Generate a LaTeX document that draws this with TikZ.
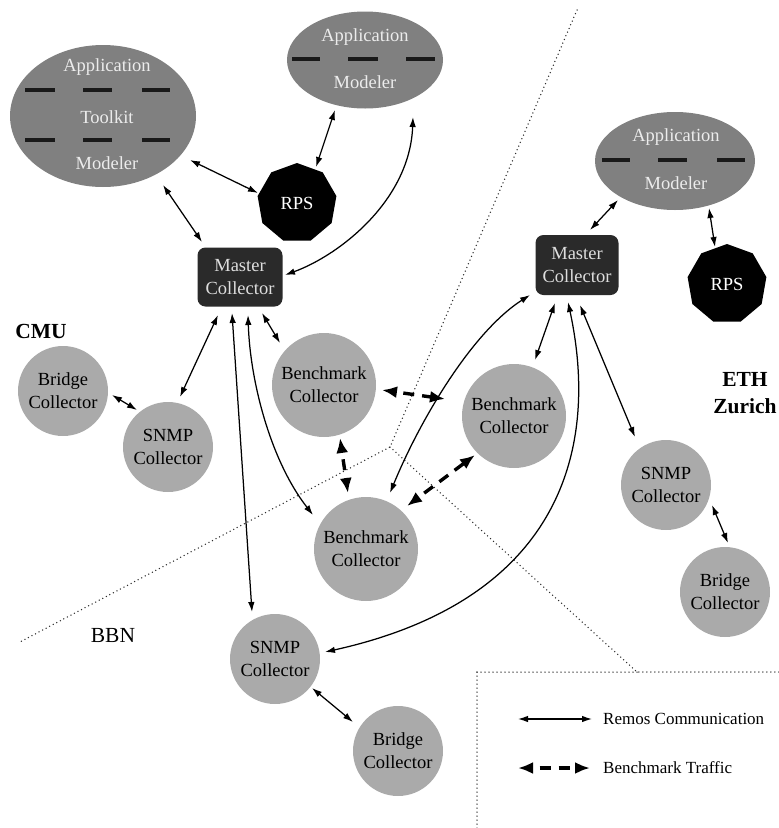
\documentclass[tikz,border=0pt]{standalone}
\usepackage{fontspec}
\setmainfont{Liberation Serif}
\usetikzlibrary{arrows.meta,shapes.geometric,calc}
\definecolor{ellfill}{RGB}{128,128,128}
\definecolor{elltext}{RGB}{236,236,236}
\definecolor{circfill}{RGB}{170,170,170}
\definecolor{mastfill}{RGB}{42,42,42}
\definecolor{masttext}{RGB}{222,222,222}
\definecolor{dotcol}{RGB}{45,45,45}
\newcommand\dgfont{\fontsize{18.5}{23}\selectfont}
\newcommand\lblfont{\fontsize{21.5}{27}\selectfont\bfseries}
\newcommand\lgdfont{\fontsize{17}{20}\selectfont}
\begin{document}
\begin{tikzpicture}[x=1pt,y=-1pt,
  ell/.style={ellipse, fill=ellfill, inner sep=0pt},
  elltxt/.style={text=elltext, font=\dgfont, inner sep=0pt},
  ebar/.style={line width=3.2pt, draw=black!90},
  circ/.style={circle, fill=circfill, inner sep=0pt, font=\dgfont, align=center, minimum size=90pt},
  bigcirc/.style={circ, minimum size=104pt},
  master/.style={rectangle, rounded corners=8pt, fill=mastfill, text=masttext, font=\dgfont, align=center, inner sep=0pt, minimum width=85pt, minimum height=59pt},
  rps/.style={regular polygon, regular polygon sides=9, fill=black, text=white, font=\dgfont, inner sep=0pt, minimum size=80pt},
  remos/.style={line width=1.25pt, {Latex[length=10pt,width=6.5pt]}-{Latex[length=10pt,width=6.5pt]}},
  bench/.style={line width=3.4pt, dash pattern=on 11pt off 8pt, dash phase=11pt, {Latex[length=15pt,width=12pt]}-{Latex[length=15pt,width=12pt]}},
  dotline/.style={draw=dotcol, line width=1.5pt, line cap=round, dash pattern=on 0pt off 4pt},
  lbl/.style={font=\lblfont, align=center, inner sep=0pt},
  lgd/.style={font=\lgdfont, anchor=west, inner sep=0pt}
]
\useasboundingbox (0,0) rectangle (779,828);

% dotted region borders
\coordinate (dTop) at (577,10);
\coordinate (dJ) at (390,447);
\coordinate (dLeft) at (18,643);
\coordinate (dLeg) at (637,672);
\coordinate (dRight) at (779,672);
\coordinate (dBox) at (477,672);
\coordinate (dBot) at (477,828);
\draw[dotline] (dTop) -- (dJ) -- (dLeft);
\draw[dotline] (dJ) -- (dLeg) -- (dRight);
\draw[dotline] (dBox) -- (dLeg);
\draw[dotline] (dBox) -- (dBot);

% ellipses
\node[ell, minimum width=186pt, minimum height=142pt] (tk) at (103,116) {};
\node[elltxt] (tkA) at ($(tk)+(4,-49)$) {Application};
\node[elltxt] (tkT) at ($(tk)+(4,1)$) {Toolkit};
\node[elltxt] (tkM) at ($(tk)+(4,47)$) {Modeler};
\foreach \xa/\xb in {25/55,83/112,142/170}{
  \draw[ebar] (\xa,90) -- (\xb,90);
  \draw[ebar] (\xa,140) -- (\xb,140);
}
\node[ell, minimum width=156pt, minimum height=97pt] (am1) at (365,60) {};
\node[elltxt] (am1A) at ($(am1)+(0,-23)$) {Application};
\node[elltxt] (am1M) at ($(am1)+(0,22)$) {Modeler};
\foreach \xa/\xb in {292/320,348/378,406/435}{
  \draw[ebar] (\xa,59) -- (\xb,59);
}
\node[ell, minimum width=160pt, minimum height=98pt] (am2) at (675,161) {};
\node[elltxt] (am2A) at ($(am2)+(1,-24)$) {Application};
\node[elltxt] (am2M) at ($(am2)+(1,22)$) {Modeler};
\foreach \xa/\xb in {602/630,658/687,717/745}{
  \draw[ebar] (\xa,160) -- (\xb,160);
}

% RPS
\node[rps] (rps1) at (297,203) {RPS};
\node[rps] (rps2) at (727,284) {RPS};

% master collectors
\node[master] (mc1) at (240,277) {Master\\Collector};
\node[master, minimum width=83pt, minimum height=60pt] (mc2) at (577,265) {Master\\Collector};

% circles
\node[circ] (bc1) at (63,391) {Bridge\\Collector};
\node[circ] (sc1) at (168,447) {SNMP\\Collector};
\node[bigcirc] (bm1) at (324,385) {Benchmark\\Collector};
\node[bigcirc] (bm2) at (366,549) {Benchmark\\Collector};
\node[bigcirc] (be) at (514,416) {Benchmark\\Collector};
\node[circ] (se) at (666,485) {SNMP\\Collector};
\node[circ] (bre) at (725,592) {Bridge\\Collector};
\node[circ] (sb) at (275,659) {SNMP\\Collector};
\node[circ] (brb) at (398,751) {Bridge\\Collector};

% labels
\node[lbl] (cmu) at (41,331) {CMU};
\node[lbl] (eth) at (745,393) {ETH\\Zurich};
\node[font=\fontsize{21.5}{27}\selectfont, inner sep=0pt] (bbn) at (113,635) {BBN};

% Remos communication
\draw[remos] ($(tk)+(60,69)$) -- ($(mc1)+(-38,-35)$);
\draw[remos] ($(tk)+(87,44)$) -- ($(rps1)+(-39,-10)$);
\draw[remos] ($(am1)+(-30,50)$) -- ($(rps1)+(19,-36)$);
\draw[remos] ($(am1)+(48,57)$) .. controls (410,200) and (340,255) .. ($(mc1)+(45,-2)$);
\draw[remos] ($(mc1)+(-22,38)$) -- ($(sc1)+(12,-50)$);
\draw[remos] ($(bc1)+(49,4)$) -- ($(sc1)+(-31,-37)$);
\draw[remos] ($(mc1)+(-8,36)$) -- ($(sb)+(-23,-47)$);
\draw[remos] ($(mc1)+(8,38)$) .. controls (250,380) and (270,460) .. ($(bm2)+(-53,-34)$);
\draw[remos] ($(mc1)+(22,36)$) -- ($(bm1)+(-44,-42)$);
\draw[remos] ($(mc2)+(-47,30)$) .. controls (472,332) and (420,420) .. ($(bm2)+(24,-56)$);
\draw[remos] ($(mc2)+(-22,38)$) -- ($(be)+(21,-56)$);
\draw[remos] ($(mc2)+(-9,37)$) .. controls (600,450) and (560,600) .. ($(sb)+(50,-7)$);
\draw[remos] ($(mc2)+(3,40)$) -- ($(se)+(-31,-48)$);
\draw[remos] ($(am2)+(-57,39)$) -- ($(mc2)+(13,-35)$);
\draw[remos] ($(am2)+(34,47)$) -- ($(rps2)+(-12,-37)$);
\draw[remos] ($(se)+(46,20)$) -- ($(bre)+(3,-49)$);
\draw[remos] ($(sb)+(37,29)$) -- ($(brb)+(-45,-29)$);

% Benchmark traffic
\draw[bench] ($(bm1)+(58,5)$) -- ($(be)+(-69,-17)$);
\draw[bench] ($(bm1)+(16,53)$) -- ($(bm2)+(-18,-56)$);
\draw[bench] ($(bm2)+(41,-43)$) -- ($(be)+(-39,39)$);

% legend
\coordinate (lr1) at (518,719);
\coordinate (lr2) at (592,719);
\coordinate (lb1) at (518,768);
\coordinate (lb2) at (590,768);
\draw[remos] (lr1) -- (lr2);
\draw[bench] (lb1) -- (lb2);
\node[lgd] (lgr) at (603,719) {Remos Communication};
\node[lgd] (lgb) at (603,768) {Benchmark Traffic};
\end{tikzpicture}
\end{document}
